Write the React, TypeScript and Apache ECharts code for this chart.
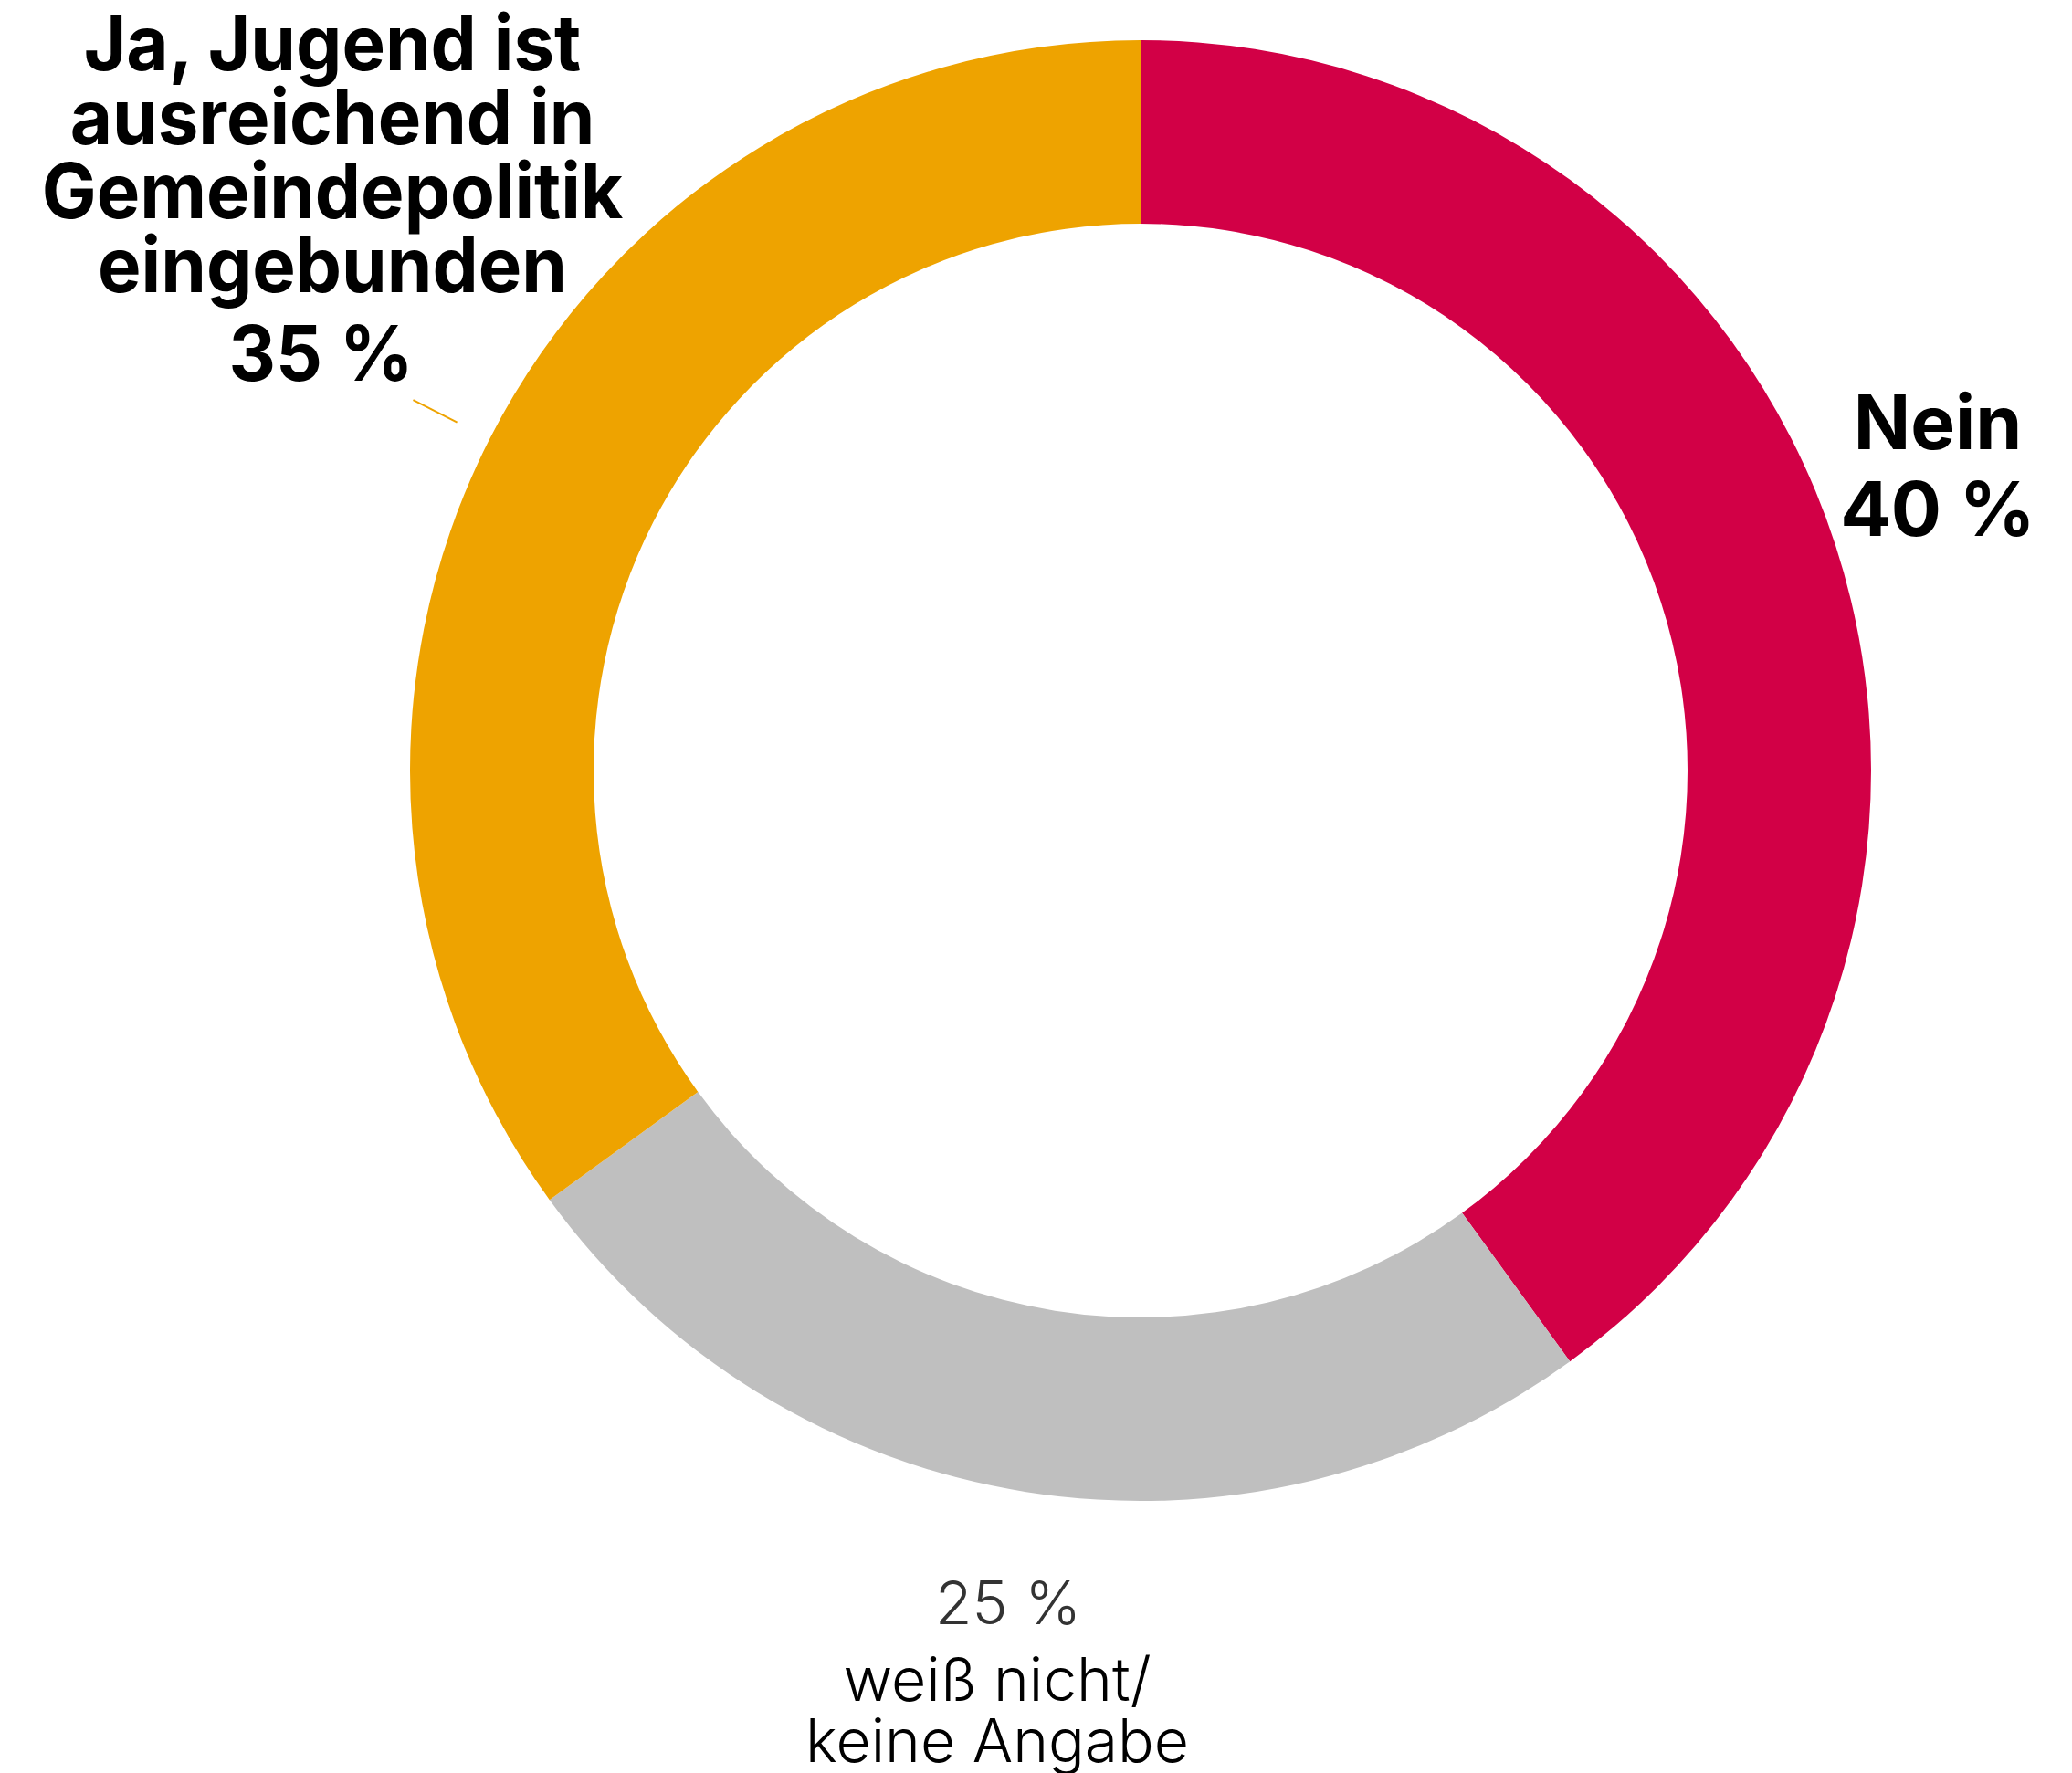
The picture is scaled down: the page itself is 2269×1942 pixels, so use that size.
import React, { useEffect, useRef } from 'react';
import * as echarts from 'echarts';

const categories = [
  'Nein',
  'weiß nicht/\nkeine Angabe',
  'Ja, Jugend ist\nausreichend in\nGemeindepolitik\neingebunden',
];
const values = [40, 25, 35];
const colors = ['#D20046', '#BFBFBF', '#EEA300'];
const valueLabels = values.map((v) => `${v} %`);

export default function App() {
  const ref = useRef<HTMLDivElement>(null);
  useEffect(() => {
    const chart = echarts.init(ref.current!, null, { renderer: 'svg' });
    const center = [1249, 844];
    const labelPos: any[] = [
      { x: 2122, y: 510, align: 'center', verticalAlign: 'middle' },
      { x: 1092, y: 1704, align: 'center', verticalAlign: 'top' },
      {},
    ];
    const wrap = (tag: string, s: string) =>
      s.split('\n').map((l) => `{${tag}|${l}}`).join('\n');

    const mainData = categories.map((name, i) => ({
      name,
      value: values[i],
      itemStyle: { color: colors[i] },
      label: {
        show: i !== 2,
        formatter:
          i === 0
            ? `${wrap('nb', name)}\n${wrap('vb', valueLabels[i])}`
            : `${wrap('vl', valueLabels[i])}\n${wrap('nl', name)}`,
      },
    }));

    const yellowText =
      wrap('n', categories[2]) + '\n' + wrap('v', valueLabels[2]);

    chart.setOption({
      animation: false,
      backgroundColor: '#ffffff',
      series: [
        {
          type: 'pie',
          silent: true,
          center,
          radius: [0, 840],
          startAngle: 90,
          clockwise: true,
          avoidLabelOverlap: false,
          z: 1,
          data: categories.map((name, i) => ({
            name,
            value: values[i],
            itemStyle: { color: 'rgba(0,0,0,0)' },
            label: { show: i === 2, formatter: ' ', fontSize: 1 },
            labelLine: {
              show: i === 2,
              length: 54,
              length2: 0,
              lineStyle: { color: colors[2], width: 2 },
            },
          })),
        },
        {
          type: 'pie',
          silent: true,
          center,
          radius: [599, 800],
          startAngle: 90,
          clockwise: true,
          avoidLabelOverlap: false,
          z: 2,
          data: mainData,
          labelLine: { show: false },
          label: {
            position: 'outside',
            rich: {
              nb: {
                fontFamily: 'Inter',
                fontWeight: 'bold',
                fontSize: 82,
                lineHeight: 95,
                color: '#000',
              },
              vb: {
                fontFamily: 'Inter',
                fontWeight: 'bold',
                fontSize: 82,
                lineHeight: 95,
                color: '#000',
              },
              vl: {
                fontFamily: 'Inter',
                fontWeight: 300,
                fontSize: 66,
                lineHeight: 101,
                color: '#333333',
                padding: [0, 0, 0, 24],
              },
              nl: {
                fontFamily: 'Inter',
                fontWeight: 300,
                fontSize: 66,
                lineHeight: 67,
                color: '#000',
              },
            },
          },
          labelLayout: (p: any) => labelPos[p.dataIndex],
        },
      ],
      graphic: [
        {
          type: 'text',
          x: 364,
          y: 6,
          scaleX: 0.95,
          style: {
            text: yellowText,
            align: 'center',
            verticalAlign: 'top',
            rich: {
              n: {
                fontFamily: 'Inter',
                fontWeight: 'bold',
                fontSize: 84,
                lineHeight: 81,
                fill: '#000',
              },
              v: {
                fontFamily: 'Inter',
                fontWeight: 'bold',
                fontSize: 84,
                lineHeight: 113,
                fill: '#000',
                padding: [0, 26, 0, 0],
              },
            },
          },
        },
      ],
    });
    return () => chart.dispose();
  }, []);
  return (
    <div
      ref={ref}
      style={{ position: 'absolute', left: 0, top: 0, width: 2269, height: 1942 }}
    />
  );
}
